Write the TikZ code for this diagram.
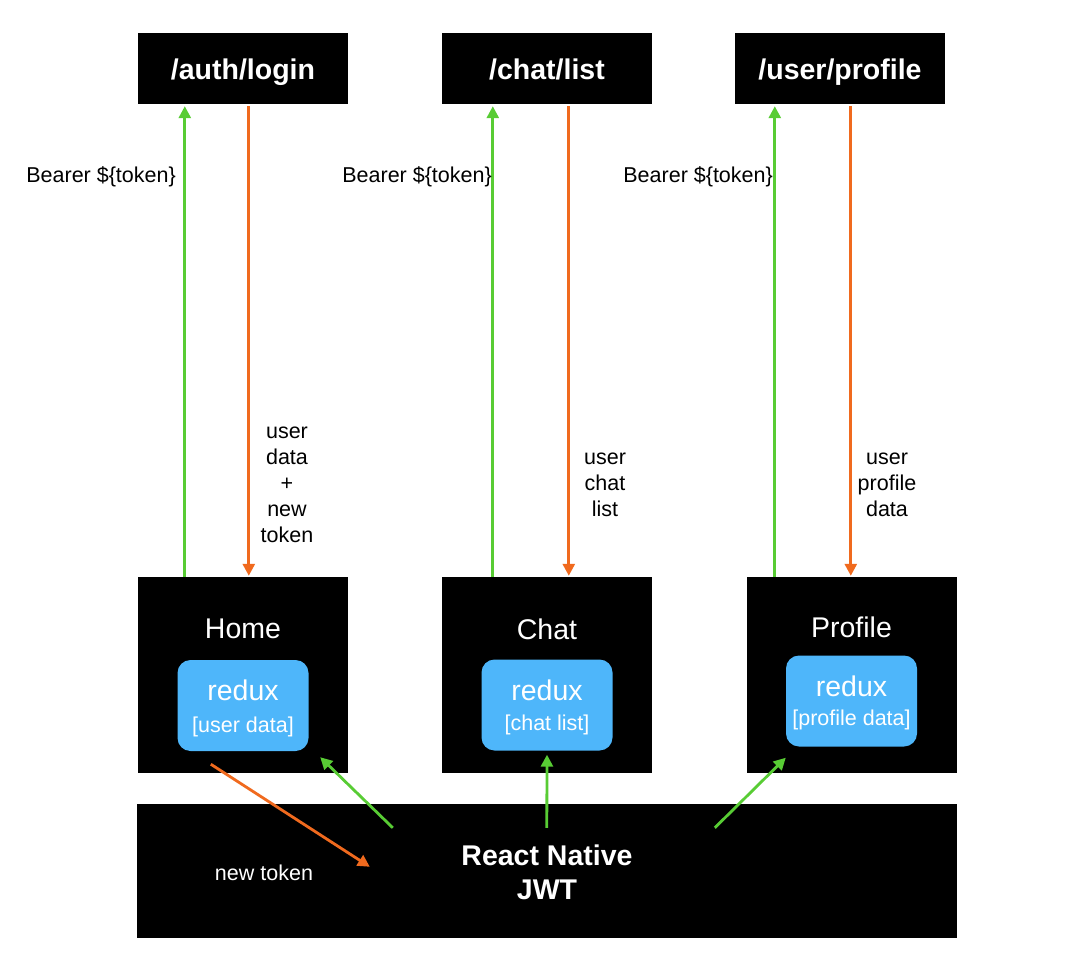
\documentclass[tikz,border=0pt]{standalone}
\usepackage{fontspec}
\setmainfont{Liberation Sans}
\usetikzlibrary{arrows.meta,calc}
\definecolor{gr}{RGB}{88,204,52}
\definecolor{og}{RGB}{240,106,30}
\definecolor{bl}{RGB}{78,182,250}
\tikzset{
  blk/.style={fill=black,draw=none,inner sep=0pt},
  api/.style={blk,minimum width=210pt,minimum height=71pt,text=white,font=\fontsize{28.5}{34}\selectfont\bfseries,text height=27pt,text depth=4pt},
  screen/.style={blk,minimum width=210pt,minimum height=196pt},
  ttl/.style={text=white,font=\fontsize{28.5}{34}\selectfont,inner sep=0pt},
  rdx/.style={fill=bl,draw=none,rounded corners=13pt,minimum width=131pt,minimum height=91pt,inner sep=0pt},
  rdxa/.style={text=white,font=\fontsize{28.5}{34}\selectfont,inner sep=0pt},
  rdxb/.style={text=white,font=\fontsize{21.5}{26}\selectfont,inner sep=0pt},
  garr/.style={draw=gr,line width=2.8pt,-{Triangle[length=12pt,width=12pt]}},
  oarr/.style={draw=og,line width=2.8pt,-{Triangle[length=12pt,width=12pt]}},
  lbl/.style={font=\fontsize{21.5}{26}\selectfont,inner sep=0pt,align=center},
}
\begin{document}
\begin{tikzpicture}[x=1pt,y=-1pt]
\useasboundingbox (0,0) rectangle (1068,965);
% API boxes
\node[api] (login) at (243,68.5) {/auth/login};
\node[api] (chatlist) at (547,68.5) {/chat/list};
\node[api] (uprof) at (840,68.5) {/user/profile};
% screens
\node[screen] (home) at (243,675) {};
\node[screen] (chat) at (547,675) {};
\node[screen] (prof) at (851.5,675) {};
\node[ttl] (homet) at (243,629) {Home};
\node[ttl] (chatt) at (547,629) {Chat};
\node[ttl] (proft) at (851.5,627) {Profile};
\node[rdx] (hr) at (243,705.5) {};
\node[rdx] (cr) at (547,705) {};
\node[rdx] (pr) at (851.5,701) {};
\node[rdxa] (hra) at (243,690) {redux};
\node[rdxb] (hrb) at (243,727) {[user data]};
\node[rdxa] (cra) at (547,690) {redux};
\node[rdxb] (crb) at (547,725) {[chat list]};
\node[rdxa] (pra) at (851.5,686) {redux};
\node[rdxb] (prb) at (851.5,720) {[profile data]};
% bottom
\node[blk,minimum width=820pt,minimum height=134pt] (rn) at (547,871) {};
\node[text=white,font=\fontsize{28.5}{34}\selectfont\bfseries,align=center,inner sep=0pt] (rnt) at (547,872) {React Native\\JWT};
\node[text=white,lbl] (nt) at (264,873) {new token};
% vertical arrows
\draw[garr] ($(home.north west)+(47,0)$) -- ($(login.south west)+(47,2)$);
\draw[oarr] ($(login.south west)+(111,2)$) -- ($(home.north west)+(111,-1)$);
\draw[garr] ($(chat.north west)+(51,0)$) -- ($(chatlist.south west)+(51,2)$);
\draw[oarr] ($(chatlist.south west)+(127,2)$) -- ($(chat.north west)+(127,-1)$);
\draw[garr] ($(prof.north west)+(28.5,0)$) -- ($(uprof.south west)+(40,2)$);
\draw[oarr] ($(uprof.south west)+(116,2)$) -- ($(prof.north west)+(104.5,-1)$);
% labels
\node[lbl,anchor=east] (b1) at (176,177) {Bearer \$\{token\}};
\node[lbl,anchor=east] (b2) at (492,177) {Bearer \$\{token\}};
\node[lbl,anchor=east] (b3) at (773,177) {Bearer \$\{token\}};
\node[lbl] (l1) at (287,485) {user\\data\\+\\new\\token};
\node[lbl] (l2) at (605,485) {user\\chat\\list};
\node[lbl] (l3) at (887,485) {user\\profile\\data};
% bottom arrows
\draw[oarr] ($(home.south west)+(73,-9)$) -- ($(rn.north west)+(233,63)$);
\draw[garr] ($(rn.north west)+(256,24)$) -- ($(home.south east)+(-28,-16)$);
\draw[garr] ($(rn.north west)+(410,24)$) -- ($(cr.south)+(0,4)$);
\draw[garr] ($(rn.north west)+(578,24)$) -- ($(pr.south west)+(0,11)$);
\end{tikzpicture}
\end{document}
